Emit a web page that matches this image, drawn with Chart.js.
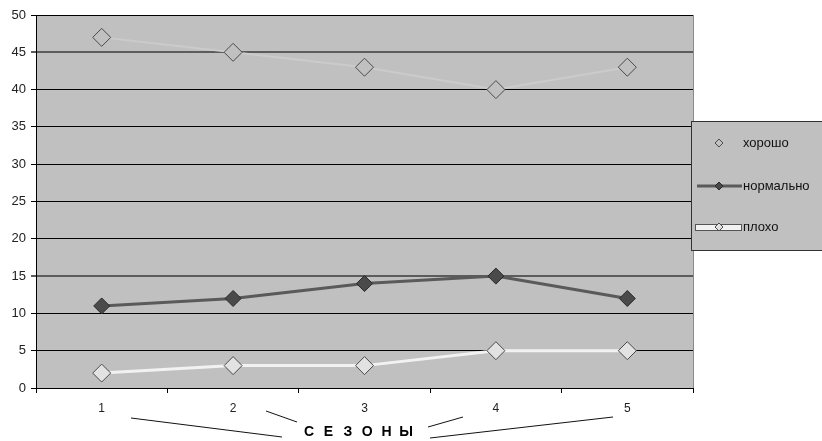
<!DOCTYPE html>
<html>
<head>
<meta charset="utf-8">
<script src="https://cdn.jsdelivr.net/npm/chart.js@4"></script>
<style>
  html, body { margin: 0; padding: 0; background: #fff; }
  #wrap { width: 822px; height: 441px; position: relative; }
</style>
</head>
<body>
<div id="wrap"><canvas id="chart"></canvas></div>
<script>
// --- Data ---
const seasons = ['1', '2', '3', '4', '5'];
const good = [47, 45, 43, 40, 43];
const normal = [11, 12, 14, 15, 12];
const bad = [2, 3, 3, 5, 5];
const seriesNames = ['хорошо', 'нормально', 'плохо'];
const axisTitle = 'СЕЗОНЫ';

const FONT = '"Liberation Sans", Arial, sans-serif';
const PLOT_BG = '#c0c0c0';

// --- Plot background + frame ---
const plotBg = {
  id: 'plotBg',
  beforeDraw(chart) {
    const { ctx, chartArea: a } = chart;
    ctx.save();
    ctx.fillStyle = PLOT_BG;
    ctx.fillRect(a.left, a.top, a.right - a.left, a.bottom - a.top);
    ctx.strokeStyle = '#8a8a8a';
    ctx.lineWidth = 1;
    ctx.beginPath();
    ctx.moveTo(a.right + 0.5, a.top);
    ctx.lineTo(a.right + 0.5, a.bottom);
    ctx.stroke();
    ctx.restore();
  }
};

// --- Legend box (drawn by hand, like the original) ---
const boxLegend = {
  id: 'boxLegend',
  afterDraw(chart) {
    const { ctx } = chart;
    const x0 = 691, y0 = 121, y1 = 250;
    ctx.save();
    ctx.fillStyle = PLOT_BG;
    ctx.fillRect(x0, y0, 822 - x0, y1 - y0);
    ctx.strokeStyle = '#333';
    ctx.lineWidth = 1;
    ctx.strokeRect(x0 + 0.5, y0 + 0.5, 822 - x0, y1 - y0);

    const rows = [143, 186, 227];
    chart.data.datasets.forEach((ds, i) => {
      const y = rows[i];
      if (i === 1) {
        ctx.strokeStyle = ds.borderColor;
        ctx.lineWidth = 3;
        ctx.beginPath(); ctx.moveTo(697, y); ctx.lineTo(742, y); ctx.stroke();
      } else if (i === 2) {
        ctx.fillStyle = '#555';
        ctx.fillRect(695, y - 3, 47, 7);
        ctx.fillStyle = '#f2f2f2';
        ctx.fillRect(696, y - 2, 45, 5);
      }
      ctx.beginPath();
      ctx.moveTo(719 - 4, y); ctx.lineTo(719, y - 4); ctx.lineTo(719 + 4, y); ctx.lineTo(719, y + 4);
      ctx.closePath();
      ctx.fillStyle = ds.pointBackgroundColor;
      ctx.fill();
      ctx.strokeStyle = ds.pointBorderColor;
      ctx.lineWidth = 1;
      ctx.stroke();

      ctx.fillStyle = '#111';
      ctx.font = '13px ' + FONT;
      ctx.textBaseline = 'middle';
      ctx.textAlign = 'left';
      ctx.fillText(ds.label, 743, y);
    });
    ctx.restore();
  }
};

// --- X title with its leader lines ---
const xTitle = {
  id: 'xTitle',
  afterDraw(chart) {
    const { ctx } = chart;
    ctx.save();
    ctx.fillStyle = '#000';
    ctx.font = 'bold 14px ' + FONT;
    ctx.textAlign = 'center';
    ctx.textBaseline = 'middle';
    // wide letter spacing, as in the original
    Array.from(axisTitle).forEach((ch, i) => {
      ctx.fillText(ch, 309 + i * 19.4, 432);
    });

    ctx.strokeStyle = '#111';
    ctx.lineWidth = 1;
    const leaders = [
      [131, 418, 282, 437],
      [266, 411, 297, 422],
      [463, 417, 428, 427],
      [613, 417, 430, 438]
    ];
    leaders.forEach(([ax, ay, bx, by]) => {
      ctx.beginPath(); ctx.moveTo(ax, ay); ctx.lineTo(bx, by); ctx.stroke();
    });
    ctx.restore();
  }
};

new Chart(document.getElementById('chart'), {
  type: 'line',
  data: {
    labels: seasons,
    datasets: [
      {
        label: seriesNames[0],
        data: good,
        borderColor: '#cbcbcb',
        borderWidth: 2,
        pointStyle: 'rectRot',
        pointRadius: 9,
        pointBackgroundColor: PLOT_BG,
        pointBorderColor: '#4a4a4a',
        pointBorderWidth: 1,
        tension: 0
      },
      {
        label: seriesNames[1],
        data: normal,
        borderColor: '#5a5a5a',
        borderWidth: 3,
        pointStyle: 'rectRot',
        pointRadius: 8,
        pointBackgroundColor: '#4a4a4a',
        pointBorderColor: '#2a2a2a',
        pointBorderWidth: 1,
        tension: 0
      },
      {
        label: seriesNames[2],
        data: bad,
        borderColor: '#f2f2f2',
        borderWidth: 3,
        pointStyle: 'rectRot',
        pointRadius: 9,
        pointBackgroundColor: '#e2e2e2',
        pointBorderColor: '#4a4a4a',
        pointBorderWidth: 1,
        tension: 0
      }
    ]
  },
  options: {
    responsive: true,
    maintainAspectRatio: false,
    animation: false,
    layout: { padding: { top: 15, right: 129, left: 0, bottom: 0 } },
    plugins: {
      legend: { display: false },
      tooltip: { enabled: false }
    },
    scales: {
      x: {
        offset: true,
        afterFit: (s) => { s.height = 53; },
        grid: {
          offset: true,
          drawOnChartArea: false,
          color: '#000',
          tickLength: 5
        },
        border: { color: '#000', width: 1 },
        ticks: { color: '#222', font: { family: FONT, size: 12 }, padding: 8 }
      },
      y: {
        min: 0,
        max: 50,
        afterFit: (s) => { s.width = 36; },
        ticks: { stepSize: 5, color: '#222', font: { family: FONT, size: 13 }, padding: 5 },
        grid: {
          color: (c) => (c.tick && (c.tick.value === 45 || c.tick.value === 15)) ? '#5c5c5c' : '#000',
          lineWidth: (c) => (c.tick && (c.tick.value === 45 || c.tick.value === 15)) ? 2 : 1,
          tickLength: 5
        },
        border: { color: '#000', width: 1 }
      }
    }
  },
  plugins: [plotBg, boxLegend, xTitle]
});
</script>
</body>
</html>
